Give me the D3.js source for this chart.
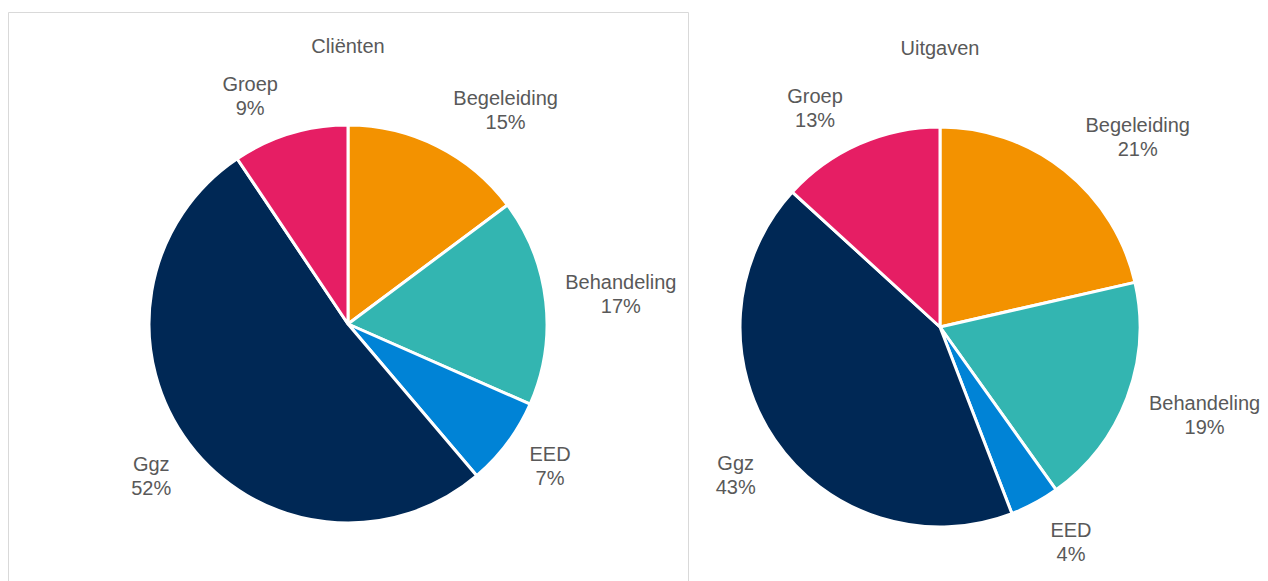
<!DOCTYPE html>
<html>
<head>
<meta charset="utf-8">
<script src="https://cdn.jsdelivr.net/npm/d3@7"></script>
<style>
  body { margin: 0; background: #fff; }
  text { font-family: "Liberation Sans", Arial, sans-serif; fill: #595959; }
</style>
</head>
<body>
<div id="chart"></div>
<script>
// categories, clockwise from 12 o'clock
var categories = ["Begeleiding", "Behandeling", "EED", "Ggz", "Groep"];
var colors = ["#F39200", "#33B5B1", "#0083D6", "#002855", "#E61E64"];

var clientValues = [14.8, 16.8, 7.2, 51.8, 9.4];
var uitgavenValues = [21.4, 18.7, 4.0, 42.6, 13.2];
var clientLabels = ["15%", "17%", "7%", "52%", "9%"];
var uitgavenLabels = ["21%", "19%", "4%", "43%", "13%"];

// label placement tweaks (Excel "best fit" shifts labels a bit)
var clientNudge = [[36, -1], [0, -4], [10, -2], [-6, 7], [-26, 0]];
var uitgavenNudge = [[28, -3], [7, 2], [17, 3], [-6, 12], [-25, 0]];

var width = 1268, height = 581;

var svg = d3.select("#chart")
  .append("svg")
  .attr("width", width)
  .attr("height", height);

// frame around the left chart
svg.append("path")
  .attr("d", "M8.5," + (height + 2) + "V12.5H688.5V" + (height + 2))
  .attr("fill", "none")
  .attr("stroke", "#d9d9d9")
  .attr("stroke-width", 1);

function pieChart(title, values, labels, nudge, cx, cy, r, titleY) {
  var g = svg.append("g").attr("transform", "translate(" + cx + "," + cy + ")");

  svg.append("text")
    .attr("x", cx)
    .attr("y", titleY)
    .attr("text-anchor", "middle")
    .style("font-size", "20px")
    .text(title);

  var pie = d3.pie().sort(null).value(function(d) { return d; });
  var arcs = pie(values);
  var arc = d3.arc().innerRadius(0).outerRadius(r);

  g.selectAll("path")
    .data(arcs)
    .enter()
    .append("path")
    .attr("d", arc)
    .attr("fill", function(d, i) { return colors[i]; })
    .attr("stroke", "#fff")
    .attr("stroke-width", 3)
    .attr("stroke-linejoin", "round");

  var labelG = g.selectAll("g.lbl")
    .data(arcs)
    .enter()
    .append("g")
    .attr("class", "lbl");

  var t = labelG.append("text")
    .attr("text-anchor", "middle")
    .style("font-size", "20px");
  t.append("tspan").attr("x", 0).attr("y", -4).text(function(d, i) { return categories[i]; });
  t.append("tspan").attr("x", 0).attr("y", 20).text(function(d, i) { return labels[i]; });

  labelG.attr("transform", function(d, i) {
    var a = (d.startAngle + d.endAngle) / 2;
    var hw = this.getBBox().width / 2;
    var R = r + 20;
    var x = Math.sin(a) * (R + hw) + nudge[i][0];
    var y = -Math.cos(a) * R - Math.cos(a) * 20 + nudge[i][1];
    return "translate(" + x + "," + y + ")";
  });
}

pieChart("Cliënten", clientValues, clientLabels, clientNudge, 348, 324, 199, 53);
pieChart("Uitgaven", uitgavenValues, uitgavenLabels, uitgavenNudge, 940, 327, 200, 55);
</script>
</body>
</html>
